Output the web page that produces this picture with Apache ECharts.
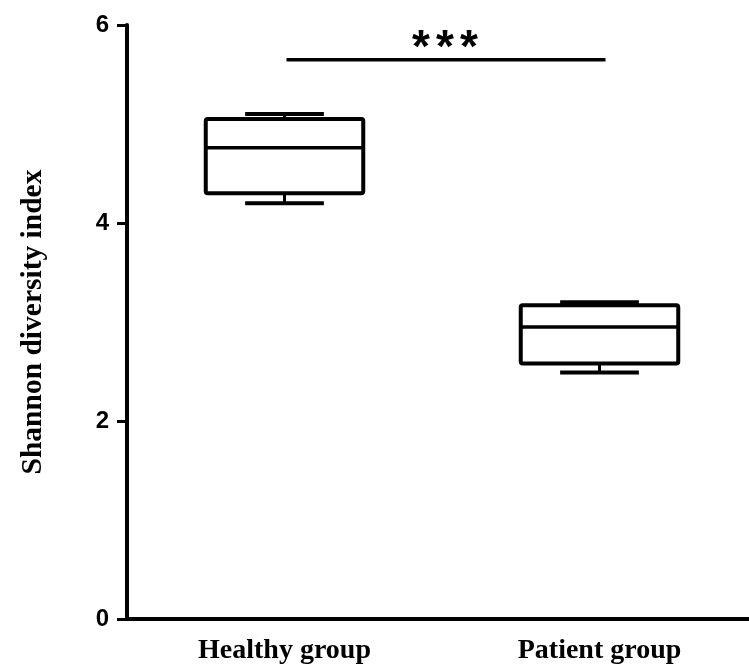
<!DOCTYPE html>
<html>
<head>
<meta charset="utf-8">
<script src="https://cdn.jsdelivr.net/npm/echarts@6/dist/echarts.min.js"></script>
<style>
  html, body { margin: 0; padding: 0; background: #fff; }
  #chart { width: 749px; height: 666px; }
</style>
</head>
<body>
<div id="chart"></div>
<script>
// ---- data ----
var categories = ['Healthy group', 'Patient group'];
var minVals    = [4.20, 2.49];
var q1Vals     = [4.30, 2.58];
var medianVals = [4.76, 2.95];
var q3Vals     = [5.05, 3.17];
var maxVals    = [5.10, 3.20];
var yTicks     = [0, 2, 4, 6];
var sigLevel   = 5.65;
var sigLabel   = '***';
var yAxisName  = 'Shannon diversity index';

var boxData = categories.map(function (c, i) {
  return [i, minVals[i], q1Vals[i], medianVals[i], q3Vals[i], maxVals[i]];
});

var chart = echarts.init(document.getElementById('chart'));

function renderBox(params, api) {
  var x = api.value(0);
  var pMin = api.coord([x, api.value(1)]);
  var pQ1 = api.coord([x, api.value(2)]);
  var pMed = api.coord([x, api.value(3)]);
  var pQ3 = api.coord([x, api.value(4)]);
  var pMax = api.coord([x, api.value(5)]);
  var band = api.size([1, 0])[0];
  var half = band * 0.25;
  var capHalf = half * 0.5;
  var cx = pMed[0];
  return {
    type: 'group',
    children: [
      { type: 'line', shape: { x1: cx, y1: pQ3[1], x2: cx, y2: pMax[1] }, style: { stroke: '#000', lineWidth: 3 } },
      { type: 'line', shape: { x1: cx, y1: pQ1[1], x2: cx, y2: pMin[1] }, style: { stroke: '#000', lineWidth: 3 } },
      { type: 'line', shape: { x1: cx - capHalf, y1: pMax[1], x2: cx + capHalf, y2: pMax[1] }, style: { stroke: '#000', lineWidth: 4 } },
      { type: 'line', shape: { x1: cx - capHalf, y1: pMin[1], x2: cx + capHalf, y2: pMin[1] }, style: { stroke: '#000', lineWidth: 4 } },
      { type: 'rect', shape: { x: cx - half, y: pQ3[1], width: half * 2, height: pQ1[1] - pQ3[1], r: 2 }, style: { stroke: '#000', lineWidth: 4, fill: '#fff' } },
      { type: 'line', shape: { x1: cx - half, y1: pMed[1], x2: cx + half, y2: pMed[1] }, style: { stroke: '#000', lineWidth: 3.5 } }
    ]
  };
}

function renderSig(params, api) {
  var a = api.coord([0, api.value(1)]);
  var b = api.coord([1, api.value(1)]);
  var mid = (a[0] + b[0]) / 2 + 3;
  var chars = sigLabel.split('');
  var step = 24;
  var children = [
    { type: 'line', shape: { x1: a[0] + 2, y1: a[1], x2: b[0] + 6, y2: b[1] }, style: { stroke: '#000', lineWidth: 3.5 } }
  ];
  chars.forEach(function (ch, k) {
    children.push({ type: 'text', style: { x: mid + (k - (chars.length - 1) / 2) * step, y: a[1] + 13, text: ch, textAlign: 'center', textVerticalAlign: 'bottom',
      font: 'bold 46px "Liberation Sans", Arial, sans-serif', fill: '#000' } });
  });
  return { type: 'group', children: children };
}

chart.setOption({
  animation: false,
  backgroundColor: '#fff',
  grid: { left: 127, right: -8, top: 25, bottom: 47, containLabel: false, outerBoundsMode: 'none' },
  xAxis: {
    type: 'category',
    data: categories,
    boundaryGap: true,
    axisLine: { lineStyle: { color: '#000', width: 4 } },
    axisTick: { alignWithLabel: true, length: 8, lineStyle: { color: '#000', width: 3 } },
    axisLabel: { color: '#000', fontFamily: '"Liberation Serif", "Times New Roman", serif', fontWeight: 'bold', fontSize: 28, margin: 18 },
    splitLine: { show: false }
  },
  yAxis: {
    type: 'value',
    min: yTicks[0],
    max: yTicks[yTicks.length - 1],
    interval: yTicks[1] - yTicks[0],
    name: yAxisName,
    nameLocation: 'middle',
    nameGap: 79,
    nameTextStyle: { color: '#000', fontFamily: '"Liberation Serif", "Times New Roman", serif', fontWeight: 'bold', fontSize: 29.5 },
    axisLine: { show: true, lineStyle: { color: '#000', width: 4 } },
    axisTick: { show: true, length: 10, lineStyle: { color: '#000', width: 3 } },
    axisLabel: { color: '#000', fontFamily: '"Liberation Sans", Arial, sans-serif', fontWeight: 'bold', fontSize: 24, margin: 18 },
    splitLine: { show: false }
  },
  series: [
    { type: 'custom', renderItem: renderBox, data: boxData, clip: false },
    { type: 'custom', renderItem: renderSig, data: [[0, sigLevel]], clip: false }
  ]
});
</script>
</body>
</html>
